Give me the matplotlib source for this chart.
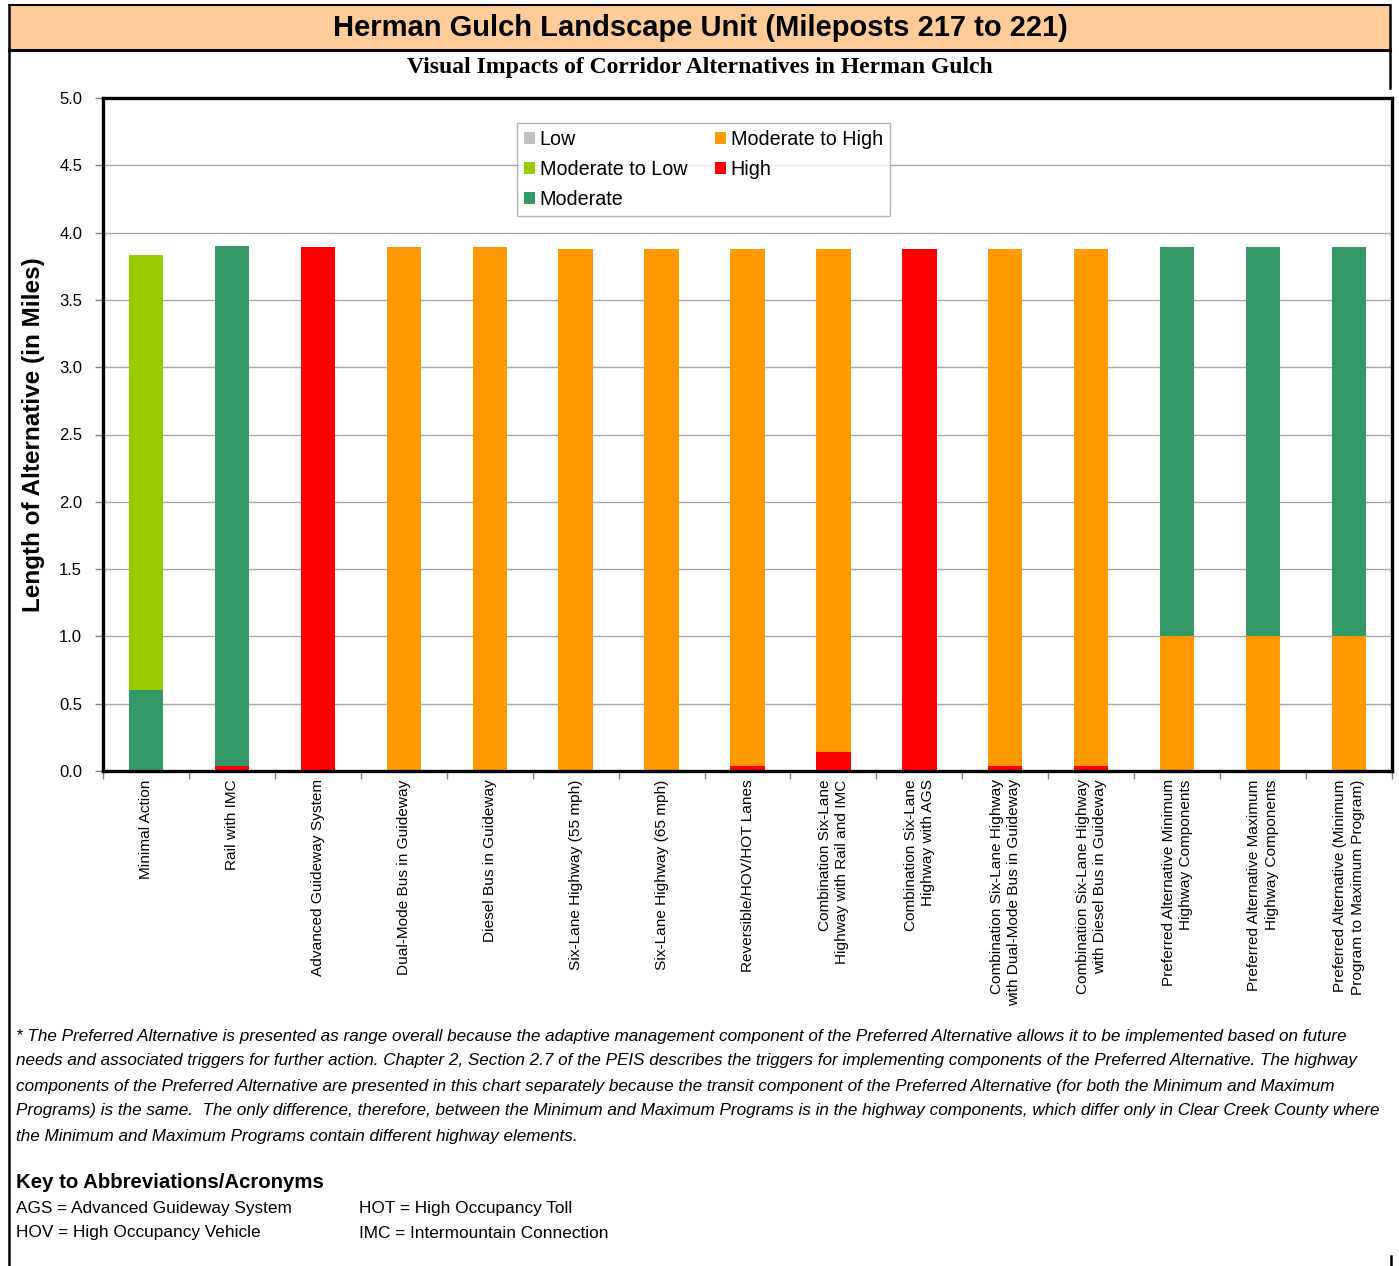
import numpy as np
import matplotlib.pyplot as plt
from matplotlib.patches import Rectangle, Patch
from matplotlib.lines import Line2D

W, H = 1399, 1266

# Alternatives along the x axis
alternatives = [
    "Minimal Action",
    "Rail with IMC",
    "Advanced Guideway System",
    "Dual-Mode Bus in Guideway",
    "Diesel Bus in Guideway",
    "Six-Lane Highway (55 mph)",
    "Six-Lane Highway (65 mph)",
    "Reversible/HOV/HOT Lanes",
    "Combination Six-Lane\nHighway with Rail and IMC",
    "Combination Six-Lane\nHighway with AGS",
    "Combination Six-Lane Highway\nwith Dual-Mode Bus in Guideway",
    "Combination Six-Lane Highway\nwith Diesel Bus in Guideway",
    "Preferred Alternative Minimum\nHighway Components",
    "Preferred Alternative Maximum\nHighway Components",
    "Preferred Alternative (Minimum\nProgram to Maximum Program)",
]

# Miles of each impact level per alternative
high = [0, 0.04, 3.89, 0, 0, 0, 0, 0.04, 0.14, 3.88, 0.04, 0.04, 0, 0, 0]
mod_high = [0, 0, 0, 3.89, 3.89, 3.88, 3.88, 3.84, 3.74, 0, 3.84, 3.84, 1.0, 1.0, 1.0]
moderate = [0.60, 3.86, 0, 0, 0, 0, 0, 0, 0, 0, 0, 0, 2.89, 2.89, 2.89]
mod_low = [3.23, 0, 0, 0, 0, 0, 0, 0, 0, 0, 0, 0, 0, 0, 0]
low = [0] * 15

levels = ["High", "Moderate to High", "Moderate", "Moderate to Low", "Low"]
colors = ["#FF0000", "#FF9900", "#339966", "#99CC00", "#C0C0C0"]
series = [high, mod_high, moderate, mod_low, low]

footnote = [
    "* The Preferred Alternative is presented as range overall because the adaptive management component of the Preferred Alternative allows it to be implemented based on future",
    "needs and associated triggers for further action. Chapter 2, Section 2.7 of the PEIS describes the triggers for implementing components of the Preferred Alternative. The highway",
    "components of the Preferred Alternative are presented in this chart separately because the transit component of the Preferred Alternative (for both the Minimum and Maximum",
    "Programs) is the same.  The only difference, therefore, between the Minimum and Maximum Programs is in the highway components, which differ only in Clear Creek County where",
    "the Minimum and Maximum Programs contain different highway elements.",
]
key_left = ["AGS = Advanced Guideway System", "HOV = High Occupancy Vehicle"]
key_right = ["HOT = High Occupancy Toll", "IMC = Intermountain Connection"]

plt.rcParams["font.family"] = ["Liberation Sans", "DejaVu Sans"]


def fx(x):
    return x / W


def fy(y):
    return 1 - y / H


fig = plt.figure(figsize=(W / 100, H / 100), dpi=100)

# header band and page frame
fig.patches.append(Rectangle((fx(9), fy(50)), fx(1390) - fx(9), fy(5) - fy(50),
                             transform=fig.transFigure, facecolor="#FFCC99",
                             edgecolor="none", zorder=0))
fig.lines.append(Line2D([fx(9), fx(1390)], [fy(5), fy(5)], transform=fig.transFigure, color="k", lw=1.5))
fig.lines.append(Line2D([fx(9), fx(1390)], [fy(50), fy(50)], transform=fig.transFigure, color="k", lw=2.2))
fig.lines.append(Line2D([fx(9), fx(9)], [fy(5), 0], transform=fig.transFigure, color="k", lw=1.8))
fig.lines.append(Line2D([fx(1390), fx(1390)], [fy(5), fy(88)], transform=fig.transFigure, color="k", lw=1.8))
fig.lines.append(Line2D([fx(1391), fx(1391)], [fy(1256), 0], transform=fig.transFigure, color="k", lw=1.8))

fig.text(fx(700), fy(28), "Herman Gulch Landscape Unit (Mileposts 217 to 221)",
         ha="center", va="center", fontsize=21, fontweight="bold")
fig.text(fx(700), fy(67), "Visual Impacts of Corridor Alternatives in Herman Gulch",
         ha="center", va="center", fontsize=17, fontweight="bold", family="Liberation Serif")

ax = fig.add_axes([fx(103), fy(771), fx(1392) - fx(103), fy(98) - fy(771)])

x = np.arange(len(alternatives))
bottom = np.zeros(len(alternatives))
handles = {}
for name, col, vals in zip(levels, colors, series):
    vals = np.array(vals, dtype=float)
    ax.bar(x, vals, width=0.4, bottom=bottom, color=col, zorder=2)
    handles[name] = Patch(facecolor=col, edgecolor="none")
    bottom += vals

ax.set_xlim(-0.5, len(alternatives) - 0.5)
ax.set_ylim(0, 5)
ax.set_yticks(np.arange(0, 5.01, 0.5))
ax.set_yticklabels([f"{v:.1f}" for v in np.arange(0, 5.01, 0.5)], fontsize=12)
ax.yaxis.grid(True, color="#A6A6A6", lw=1.0, zorder=0)
ax.tick_params(axis="y", length=6, width=1, color="#808080", pad=9)

ax.set_xticks(x)
ax.set_xticklabels(alternatives, rotation=90, fontsize=11.1, va="top", ha="center",
                   multialignment="right", linespacing=1.3)
ax.set_xticks(np.arange(-0.5, len(alternatives)), minor=True)
ax.tick_params(axis="x", which="major", length=0, pad=6)
ax.tick_params(axis="x", which="minor", length=6, width=1, color="#808080")

for s in ax.spines.values():
    s.set_linewidth(2.4)
    s.set_color("black")

ax.set_ylabel("Length of Alternative (in Miles)", fontsize=17.5, fontweight="bold")
ax.yaxis.set_label_coords((45 - 103) / 1289, 0.5)

order = ["Low", "Moderate to Low", "Moderate", "Moderate to High", "High"]
leg = ax.legend([handles[k] for k in order], order, ncol=2, loc="upper left",
                bbox_to_anchor=((517 - 103) / 1289, (771 - 123) / 673),
                fontsize=14.2, frameon=True, fancybox=False, edgecolor="#A0A0A0",
                handlelength=0.55, handleheight=0.55, handletextpad=0.25,
                columnspacing=1.4, labelspacing=0.56, borderpad=0.35,
                borderaxespad=0)
leg.get_frame().set_linewidth(1.0)
leg.set_zorder(5)

# footnote and key
for i, line in enumerate(footnote):
    fig.text(fx(16), fy(1036 + 25 * i), line, ha="left", va="center",
             fontsize=12.3, style="italic")

fig.text(fx(16), fy(1182), "Key to Abbreviations/Acronyms", ha="left", va="center",
         fontsize=14.7, fontweight="bold")
for i, (a, b) in enumerate(zip(key_left, key_right)):
    fig.text(fx(16), fy(1208 + 25 * i), a, ha="left", va="center", fontsize=12.4)
    fig.text(fx(359), fy(1208 + 25 * i), b, ha="left", va="center", fontsize=12.4)

fig.savefig("out.png", dpi=100, facecolor="white")
